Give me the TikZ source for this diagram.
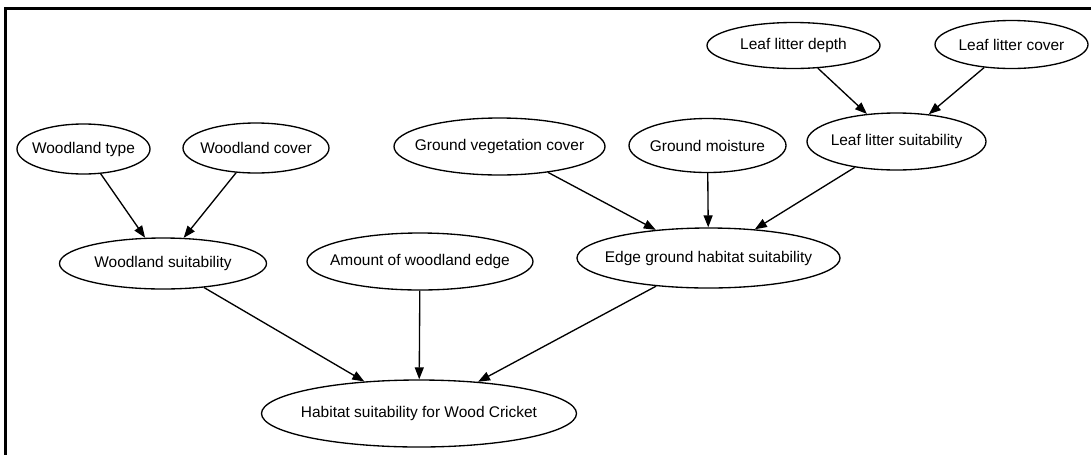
\documentclass[tikz,border=0pt]{standalone}
\usepackage{fontspec}
\setmainfont{Liberation Sans}
\usetikzlibrary{shapes.geometric,arrows.meta}
\begin{document}
\begin{tikzpicture}[x=0.75pt,y=-0.75pt,
  bn/.style n args={2}{ellipse, draw, line width=1pt, inner sep=0pt,
    minimum width={#1*0.75pt}, minimum height={#2*0.75pt}},
  every label/.style={font=\fontsize{11.6pt}{14pt}\selectfont, inner sep=0pt},
  link/.style={-{Triangle[length=9pt,width=6.75pt]}, line width=1pt}]
\useasboundingbox (0,0) rectangle (1091,454);

% frame
\draw[line width=1.9pt] (5.3,460) -- (5.3,8.7) -- (1095,8.7);

% nodes
\node[bn={133}{50}, label={center:Woodland type}] (wt) at (83.5,149) {};
\node[bn={146}{50}, label={center:Woodland cover}] (wc) at (256,148) {};
\node[bn={207}{51}, label={center:Woodland suitability}] (ws) at (163,263.5) {};
\node[bn={226}{57}, label={center:Amount of woodland edge}] (aw) at (420,261.5) {};
\node[bn={211}{57}, label={center:Ground vegetation cover}] (gv) at (499.5,146.5) {};
\node[bn={157}{54}, label={center:Ground moisture}] (gm) at (707.5,145.5) {};
\node[bn={179}{57}, label={center:Leaf litter suitability}] (lls) at (896.5,141.5) {};
\node[bn={173}{46}, label={center:Leaf litter depth}] (lld) at (793.5,45.5) {};
\node[bn={153}{48}, label={center:Leaf litter cover}] (llc) at (1011.5,44.5) {};
\node[bn={263}{60}, label={center:Edge ground habitat suitability}] (eg) at (708.5,258) {};
\node[bn={315}{67}, label={center:Habitat suitability for Wood Cricket}] (hab) at (419,413.5) {};

% edges
\draw[link] (wt) -- (ws);
\draw[link] (wc) -- (ws);
\draw[link] (lld) -- (lls);
\draw[link] (llc) -- (lls);
\draw[link] (gv) -- (eg);
\draw[link] (gm) -- (eg);
\draw[link] (lls) -- (eg);
\draw[link] (ws) -- (hab);
\draw[link] (aw) -- (hab);
\draw[link] (eg) -- (hab);
\end{tikzpicture}
\end{document}
